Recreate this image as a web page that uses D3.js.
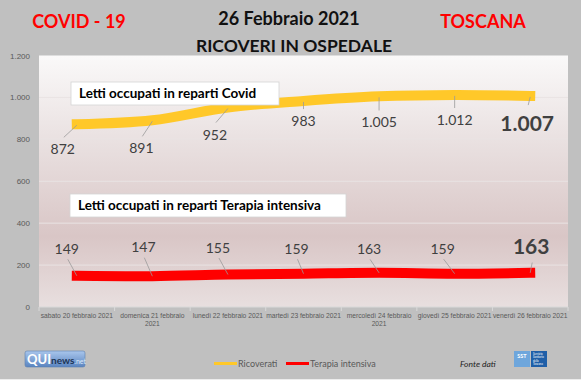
<!DOCTYPE html>
<meta charset="utf-8">
<title>Ricoveri in ospedale - Toscana</title>
<style>
  body { margin: 0; background: #c0c0c0; }
  svg { display: block; font-family: Lato, "Open Sans", sans-serif; }
  .ytick text { fill: #595959; font-size: 8px; }
  .xtick text { fill: #595959; font-size: 6.7px; }
  .grid { stroke: #e9e3e3; stroke-width: 1; }
  .leader { stroke: #9a9a9a; stroke-width: 0.8; }
  .val { fill: #404040; }
  .callout rect { fill: #fff; stroke: #d4d4d4; stroke-width: 0.8; }
  .callout text { fill: #000; font-weight: bold; font-size: 13.5px; }
  .legend text { fill: #595959; font-size: 9px; }
</style>
<body>
<script src="https://cdn.jsdelivr.net/npm/d3@7"></script>
<script>
const days = [
  "sabato 20 febbraio 2021",
  "domenica 21 febbraio 2021",
  "lunedì 22 febbraio 2021",
  "martedì 23 febbraio 2021",
  "mercoledì 24 febbraio 2021",
  "giovedì 25 febbraio 2021",
  "venerdì 26 febbraio 2021"
];
const ricoverati = [872, 891, 952, 983, 1005, 1012, 1007];
const terapiaIntensiva = [149, 147, 155, 159, 163, 159, 163];
const yTicks = [0, 200, 400, 600, 800, 1000, 1200];
const seriesNames = ["Ricoverati", "Terapia intensiva"];
const seriesColors = ["#ffc829", "#ff0000"];

// label offsets from the point (layout only)
const ricShift = [[-14, 25], [-11, 28], [-13, 27], [0, 20], [0, 26], [0, 25], [-3, 27]];
const tiShift = [[-10, -27], [-9, -29], [-10, -27], [-7, -25], [-10, -24], [-12, -25], [1, -26]];

const W = 581, H = 380;
const fmt = d3.formatLocale({ decimal: ",", thousands: ".", grouping: [3], currency: ["€", ""] }).format(",d");

const svg = d3.select("body").append("svg").attr("width", W).attr("height", H);

// titles
svg.append("text").attr("x", 79).attr("y", 28).attr("text-anchor", "middle")
  .attr("fill", "#ff0000").attr("font-weight", "bold").attr("font-size", 18).text("COVID - 19");
svg.append("text").attr("x", 289).attr("y", 25).attr("text-anchor", "middle")
  .attr("fill", "#111").attr("font-weight", "bold").attr("font-size", 18).text("26 Febbraio 2021");
svg.append("text").attr("x", 294).attr("y", 52).attr("text-anchor", "middle")
  .attr("fill", "#111").attr("font-weight", "bold").attr("font-size", 17.5).text("RICOVERI IN OSPEDALE");
svg.append("text").attr("x", 483).attr("y", 28).attr("text-anchor", "middle")
  .attr("fill", "#ff0000").attr("font-weight", "bold").attr("font-size", 18).text("TOSCANA");

const x = d3.scaleBand().domain(days).range([39, 568]).padding(0);
const y = d3.scaleLinear().domain([0, 1200]).range([307, 55.5]);
const cx = d => x(d) + x.bandwidth() / 2;

// plot background
const grad = svg.append("defs").append("linearGradient").attr("id", "bg")
  .attr("x1", 0).attr("y1", 0).attr("x2", 0).attr("y2", 1);
grad.append("stop").attr("offset", "0%").attr("stop-color", "#faf9f9");
grad.append("stop").attr("offset", "35%").attr("stop-color", "#e9e0e0");
grad.append("stop").attr("offset", "72%").attr("stop-color", "#d9c6c6");
grad.append("stop").attr("offset", "100%").attr("stop-color", "#e8dfdf");
svg.append("rect").attr("x", x.range()[0]).attr("y", y(1200))
  .attr("width", x.range()[1] - x.range()[0]).attr("height", y(0) - y(1200))
  .attr("fill", "url(#bg)");

svg.append("g").selectAll("line").data(yTicks.filter(v => v > 0 && v < 1200)).join("line")
  .attr("class", "grid").attr("x1", x.range()[0]).attr("x2", x.range()[1])
  .attr("y1", d => y(d)).attr("y2", d => y(d));

// y axis
const yAxis = svg.append("g").attr("class", "ytick").attr("transform", "translate(32,0)")
  .call(d3.axisLeft(y).tickValues(yTicks).tickFormat(fmt).tickSize(0).tickPadding(2));
yAxis.select(".domain").remove();

// x axis
svg.append("line").attr("x1", x.range()[0]).attr("x2", x.range()[1])
  .attr("y1", y(0)).attr("y2", y(0)).attr("stroke", "#d9d9d9");
svg.append("g").selectAll("line").data(days.map(d => x(d)).concat([x.range()[1]])).join("line")
  .attr("x1", d => d).attr("x2", d => d).attr("y1", y(0)).attr("y2", y(0) + 4)
  .attr("stroke", "#d9d9d9");
const xAxis = svg.append("g").attr("class", "xtick").attr("transform", `translate(0,${y(0)})`)
  .call(d3.axisBottom(x).tickSize(0).tickPadding(6));
xAxis.select(".domain").remove();
// long labels (more than 24 chars) go on two lines, last word wrapped
xAxis.selectAll(".tick text").each(function () {
  const t = d3.select(this);
  const s = t.text();
  if (s.length <= 24) return;
  const cut = s.lastIndexOf(" ");
  t.text(null);
  t.append("tspan").attr("x", 0).attr("dy", "0.71em").text(s.slice(0, cut));
  t.append("tspan").attr("x", 0).attr("dy", "1.3em").text(s.slice(cut + 1));
});

// lines
const lineGen = d3.line().x((d, i) => cx(days[i])).y(d => y(d)).curve(d3.curveCatmullRom);
[ricoverati, terapiaIntensiva].forEach((s, k) => {
  svg.append("path").attr("d", lineGen(s)).attr("fill", "none")
    .attr("stroke", seriesColors[k]).attr("stroke-width", 10).attr("stroke-linecap", "square");
});

// data labels
function drawLabels(values, shift, below) {
  const g = svg.append("g");
  values.forEach((v, i) => {
    const last = i === values.length - 1;
    const fs = last ? 21 : 14;
    const px = cx(days[i]), py = y(v);
    const lx = px + shift[i][0], ly = py + shift[i][1];
    const sy = below ? ly - 0.85 * fs : ly + 0.75 * fs;
    g.append("line").attr("class", "leader")
      .attr("x1", lx + (shift[i][0] ? 1 : 0)).attr("y1", sy)
      .attr("x2", px).attr("y2", below ? py + 1 : py);
    g.append("text").attr("class", "val").attr("x", lx).attr("y", ly)
      .attr("dy", "0.36em").attr("text-anchor", "middle")
      .attr("font-size", fs).attr("font-weight", last ? "bold" : null)
      .text(fmt(v));
  });
}
drawLabels(ricoverati, ricShift, true);
drawLabels(terapiaIntensiva, tiShift, false);

// callouts
function callout(x0, y0, w, h, label) {
  const g = svg.append("g").attr("class", "callout");
  g.append("rect").attr("x", x0).attr("y", y0).attr("width", w).attr("height", h);
  g.append("text").attr("x", x0 + 8).attr("y", y0 + h / 2).attr("dy", "0.36em").text(label);
}
callout(71, 82, 208, 23, "Letti occupati in reparti Covid");
callout(70, 194, 276, 23, "Letti occupati in reparti Terapia intensiva");

// legend
const leg = svg.append("g").attr("class", "legend");
const legX = [214, 286];
seriesNames.forEach((n, k) => {
  leg.append("rect").attr("x", legX[k]).attr("y", 362).attr("width", 23).attr("height", 3)
    .attr("fill", seriesColors[k]);
  leg.append("text").attr("x", legX[k] + 24).attr("y", 363.5).attr("dy", "0.35em").text(n);
});

// logos
const qg = svg.append("defs").append("linearGradient").attr("id", "qui")
  .attr("x1", 0).attr("y1", 0).attr("x2", 0).attr("y2", 1);
qg.append("stop").attr("offset", "0%").attr("stop-color", "#a9c6ec");
qg.append("stop").attr("offset", "100%").attr("stop-color", "#5a84c0");
svg.append("rect").attr("x", 25).attr("y", 351).attr("width", 60).attr("height", 16).attr("rx", 2)
  .attr("fill", "url(#qui)").attr("stroke", "#5d7fae").attr("stroke-width", 0.6);
const qt = svg.append("text").attr("x", 27).attr("y", 364).attr("font-weight", "bold");
qt.append("tspan").attr("fill", "#fff").attr("font-size", 13).text("QUI");
qt.append("tspan").attr("fill", "#1d3556").attr("font-size", 10).text("news");
qt.append("tspan").attr("fill", "#dbe7f7").attr("font-size", 7).attr("font-weight", "normal").text(".net");

svg.append("text").attr("x", 460).attr("y", 367).attr("font-size", 8.5).attr("font-style", "italic")
  .attr("fill", "#222").text("Fonte dati");
svg.append("rect").attr("x", 514).attr("y", 351).attr("width", 16).attr("height", 16).attr("fill", "#6ea6dc");
svg.append("text").attr("x", 522).attr("y", 358).attr("text-anchor", "middle").attr("font-size", 5.5)
  .attr("font-weight", "bold").attr("fill", "#fff").text("SST");
svg.append("rect").attr("x", 531).attr("y", 351).attr("width", 16).attr("height", 16).attr("fill", "#1f5fa8");
["Servizio", "Sanitario", "della", "Toscana"].forEach((w, i) => {
  svg.append("text").attr("x", 533).attr("y", 355 + i * 3.3).attr("font-size", 2.8)
    .attr("fill", "#fff").text(w);
});

svg.append("line").attr("x1", 0).attr("x2", W).attr("y1", 379.5).attr("y2", 379.5).attr("stroke", "#ececec");
</script>
</body>
